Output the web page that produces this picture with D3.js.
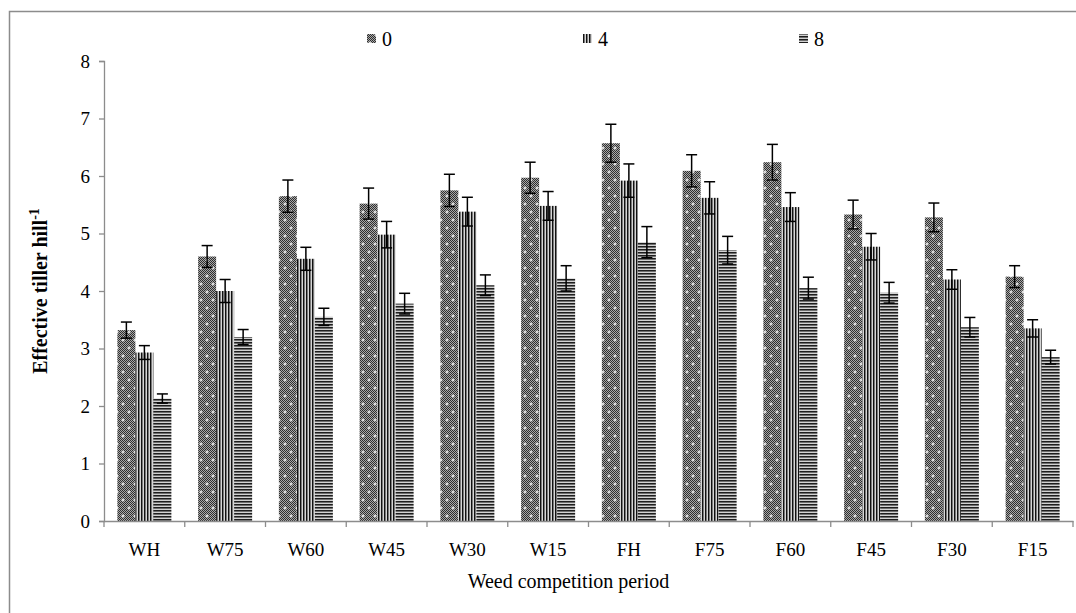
<!DOCTYPE html>
<html><head><meta charset="utf-8">
<script src="https://cdn.jsdelivr.net/npm/d3@7"></script>
<style>body{margin:0;background:#fff;overflow:hidden}</style>
</head><body><svg id="c" width="1076" height="613" font-family="Liberation Serif, Times New Roman, serif"></svg>
<script>
const categories = ["WH","W75","W60","W45","W30","W15","FH","F75","F60","F45","F30","F15"];
const seriesNames = ["0","4","8"];
const values0 = [3.32,4.60,5.65,5.52,5.75,5.97,6.57,6.09,6.24,5.33,5.28,4.25];
const values4 = [2.93,4.00,4.56,4.98,5.38,5.48,5.92,5.62,5.46,4.77,4.20,3.35];
const values8 = [2.13,3.20,3.55,3.78,4.10,4.22,4.85,4.71,4.05,3.97,3.37,2.85];
const err0 = [0.14,0.19,0.28,0.27,0.28,0.27,0.33,0.28,0.31,0.25,0.25,0.19];
const err4 = [0.12,0.20,0.20,0.23,0.25,0.25,0.29,0.28,0.25,0.23,0.17,0.15];
const err8 = [0.08,0.13,0.15,0.18,0.18,0.22,0.27,0.24,0.19,0.18,0.17,0.12];
const yTicks = [0,1,2,3,4,5,6,7,8];

const FONT = "Liberation Serif";
const svg = d3.select("#c");
const plot = {left:104, right:1073, top:61, bottom:521};

// patterns
const defs = svg.append("defs");
const p0 = defs.append("pattern").attr("id","p0").attr("patternUnits","userSpaceOnUse").attr("width",12).attr("height",16);
for (let yy=0;yy<16;yy++) for (let xx=0;xx<12;xx++) {
  p0.append("rect").attr("x",xx).attr("y",yy).attr("width",1).attr("height",1)
    .attr("fill", (xx+yy)%2===0 ? "#2e2e2e" : "#a8a8a8");
}
[[3,4],[9,12]].forEach(([cx,cy])=>{
  p0.append("rect").attr("x",cx-1.5).attr("y",cy-0.5).attr("width",3).attr("height",1).attr("fill","#fff");
  p0.append("rect").attr("x",cx-0.5).attr("y",cy-1.5).attr("width",1).attr("height",3).attr("fill","#fff");
});
const p4 = defs.append("pattern").attr("id","p4").attr("patternUnits","userSpaceOnUse").attr("width",3).attr("height",3);
["#111","#7a7a7a","#d6d6d6"].forEach((c,i)=>p4.append("rect").attr("x",i).attr("y",0).attr("width",1).attr("height",3).attr("fill",c));
const p8 = defs.append("pattern").attr("id","p8").attr("patternUnits","userSpaceOnUse").attr("width",3).attr("height",3);
["#1e1e1e","#6e6e6e","#d2d2d2"].forEach((c,i)=>p8.append("rect").attr("x",0).attr("y",i).attr("width",3).attr("height",1).attr("fill",c));
const fills = ["url(#p0)","url(#p4)","url(#p8)"];

// outer border
svg.append("rect").attr("x",9.5).attr("y",11.5).attr("width",1070).attr("height",610)
  .attr("fill","none").attr("stroke","#8c8c8c").attr("stroke-width",1.5);

const x0 = d3.scaleBand().domain(categories).range([plot.left, plot.right]).paddingInner(0).paddingOuter(0);
const groupW = 54;
const x1 = d3.scaleBand().domain(seriesNames).range([0, groupW]);
const y = d3.scaleLinear().domain([0,8]).range([plot.bottom, plot.top]);

const series = [values0, values4, values8];
const errs = [err0, err4, err8];

series.forEach((vals, si) => {
  svg.append("g").selectAll("rect").data(vals).join("rect")
    .attr("x",(d,i)=> x0(categories[i]) + (x0.bandwidth()-groupW)/2 + x1(seriesNames[si]))
    .attr("y", d=>y(d))
    .attr("width", x1.bandwidth())
    .attr("height", d=> y(0)-y(d))
    .attr("fill", fills[si]);
});
series.forEach((vals, si) => {
  const g = svg.append("g").attr("stroke","#000").attr("stroke-width",1.5);
  vals.forEach((v,i)=>{
    const cx = x0(categories[i]) + (x0.bandwidth()-groupW)/2 + x1(seriesNames[si]) + x1.bandwidth()/2;
    const e = errs[si][i];
    g.append("line").attr("x1",cx).attr("x2",cx).attr("y1",y(v+e)).attr("y2",y(v-e));
    g.append("line").attr("x1",cx-5.5).attr("x2",cx+5.5).attr("y1",y(v+e)).attr("y2",y(v+e));
    g.append("line").attr("x1",cx-5.5).attr("x2",cx+5.5).attr("y1",y(v-e)).attr("y2",y(v-e));
  });
});

// y axis
const yAxis = svg.append("g").attr("transform",`translate(${plot.left},0)`)
  .call(d3.axisLeft(y).tickValues(yTicks).tickSize(5).tickPadding(9).tickFormat(d3.format("d")));
yAxis.attr("font-family",FONT);
yAxis.select(".domain").attr("stroke","#8c8c8c").attr("stroke-width",1.3);
yAxis.selectAll(".tick line").attr("stroke","#8c8c8c").attr("stroke-width",1.3);
yAxis.selectAll("text").attr("font-size",19).attr("font-family",FONT).attr("fill","#000");

// x axis
const xAxis = svg.append("g").attr("transform",`translate(0,${plot.bottom})`)
  .call(d3.axisBottom(x0).tickSize(0).tickPadding(22));
xAxis.attr("font-family",FONT);
xAxis.select(".domain").attr("stroke","#8c8c8c").attr("stroke-width",1.3);
xAxis.selectAll("text").attr("font-size",19).attr("font-family",FONT).attr("fill","#000");
const bounds = categories.map(c=>x0(c)).concat([plot.right]);
svg.append("g").selectAll("line").data(bounds).join("line")
  .attr("x1",d=>d).attr("x2",d=>d).attr("y1",plot.bottom).attr("y2",plot.bottom+6)
  .attr("stroke","#8c8c8c").attr("stroke-width",1.3);

// axis titles
svg.append("text").attr("x",(plot.left+plot.right)/2 - 20).attr("y",588).attr("text-anchor","middle")
  .attr("font-family",FONT).attr("font-size",20).text("Weed competition period");
const yt = svg.append("text").attr("transform",`translate(47,${(plot.top+plot.bottom)/2}) rotate(-90)`)
  .attr("text-anchor","middle").attr("font-family",FONT).attr("font-size",20).attr("font-weight","bold");
yt.append("tspan").text("Effective tiller hill");
yt.append("tspan").attr("dy",-8).attr("font-size",14).text("-1");

// legend
const legX = [367, 583, 799];
seriesNames.forEach((s,i)=>{
  const g = svg.append("g").attr("transform",`translate(${legX[i]},39)`);
  g.append("rect").attr("x",0).attr("y",-5).attr("width",9).attr("height",9).attr("fill",fills[i]);
  g.append("text").attr("x",15).attr("y",6.5).attr("font-family",FONT).attr("font-size",20).text(s);
});
</script></body></html>
